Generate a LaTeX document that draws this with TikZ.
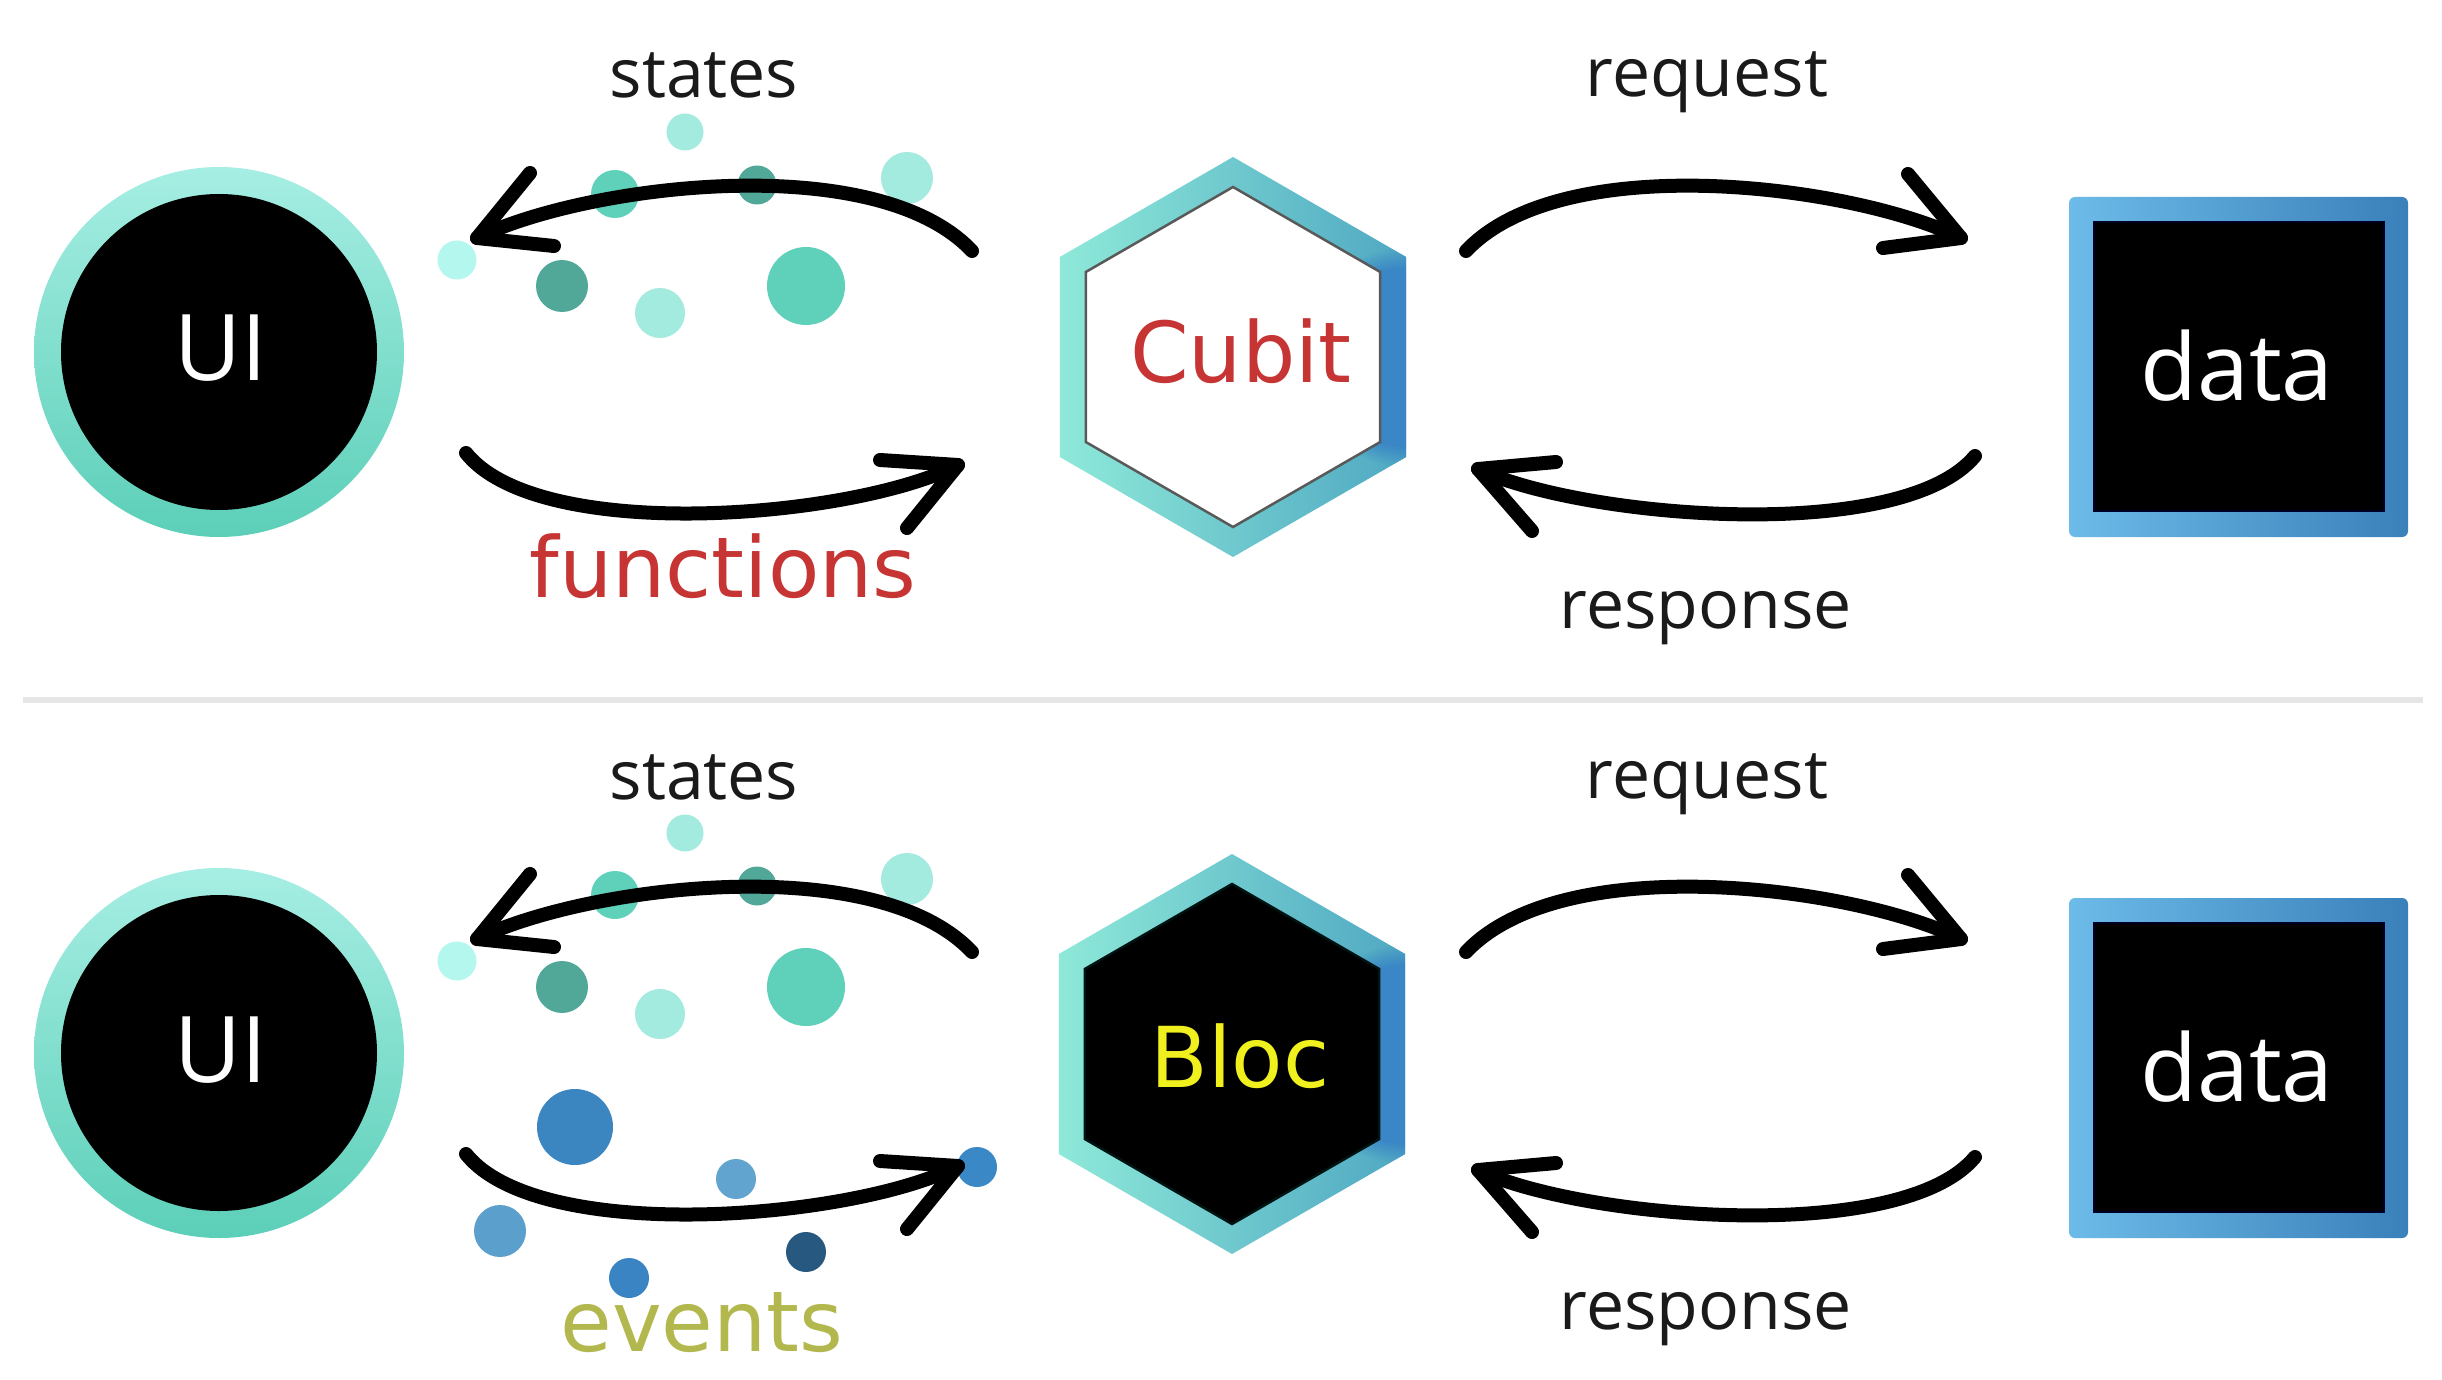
\documentclass[tikz,border=0pt]{standalone}
\usepackage{fontspec}
\newfontfamily\osans{Open Sans}
\newfontfamily\dvsans{DejaVu Sans}
\usetikzlibrary{fadings}
\definecolor{uiTop}{HTML}{A6EEE3}
\definecolor{uiBot}{HTML}{5CCFB8}
\definecolor{hexL}{HTML}{8EE9D9}
\definecolor{hexM}{HTML}{62D1BC}
\definecolor{hexR}{HTML}{4FA8C2}
\definecolor{hexB}{HTML}{3A86C6}
\definecolor{dataL}{HTML}{6CBBE8}
\definecolor{dataR}{HTML}{3A80BA}
\definecolor{dLt}{HTML}{A3EADF}
\definecolor{dMid}{HTML}{5FD0BA}
\definecolor{dDk}{HTML}{52A898}
\definecolor{dVlt}{HTML}{B4F7EF}
\definecolor{eA}{HTML}{3B85C1}
\definecolor{eB}{HTML}{62A4D0}
\definecolor{eC}{HTML}{3A88C5}
\definecolor{eD}{HTML}{5B9FCC}
\definecolor{eE}{HTML}{3A84C4}
\definecolor{eF}{HTML}{27587F}
\definecolor{cubitRed}{HTML}{C63434}
\definecolor{blocYel}{HTML}{F0F01E}
\definecolor{evOlive}{HTML}{B3B84E}
\definecolor{sepGray}{HTML}{E6E6E6}
\definecolor{lblBlack}{HTML}{1A1A1A}
\tikzset{
  arrowline/.style={line width=14, line cap=round, line join=round, draw=black},
  arrowhead/.style={line width=14, line cap=round, line join=round, draw=black},
  lbl/.style={anchor=base, inner sep=0, text=lblBlack, font=\osans\fontsize{68}{80}\selectfont},
  bigtxt/.style={anchor=base, inner sep=0, font=\dvsans\fontsize{84}{96}\selectfont},
  whitetxt/.style={anchor=base, inner sep=0, text=white, font=\osans\fontsize{92}{100}\selectfont},
}
\newcommand\hexagonpath[3]{(#1,#2-#3) -- (#1+0.866*#3,#2-0.5*#3) -- (#1+0.866*#3,#2+0.5*#3) -- (#1,#2+#3) -- (#1-0.866*#3,#2+0.5*#3) -- (#1-0.866*#3,#2-0.5*#3) -- cycle}
\begin{document}
\begin{tikzpicture}[x=1pt,y=-1pt]
\useasboundingbox[fill=white] (0,0) rectangle (2442,1380);

% separator
\coordinate (sepL) at (23,700);
\coordinate (sepR) at (2423,700);
\draw[line width=6, draw=sepGray] (sepL) -- (sepR);

\foreach \r/\dy in {a/0,b/701}{
\begin{scope}[shift={(0,\dy)}]
  % UI node
  \node[circle, minimum size=370, inner sep=0, top color=uiTop, bottom color=uiBot] (uiring\r) at (219,352) {};
  \node[circle, minimum size=316, inner sep=0, fill=black] (ui\r) at (219,352) {};
  \node[whitetxt] (uitxt\r) at (221,381) {UI};
  % data node
  \node[rectangle, rounded corners=6, minimum width=339, minimum height=340, inner sep=0, left color=dataL, right color=dataR] (dataring\r) at (2238.5,367) {};
  \node[rectangle, minimum width=290, minimum height=289, inner sep=0, fill=black, draw=black!85!blue, line width=2] (data\r) at (2239,366.5) {};
  \node[whitetxt, font=\osans\fontsize{93}{100}\selectfont] (datatxt\r) at (2237,400) {data};
  % labels
  \node[lbl] (states\r) at (704,98) {states};
  \node[lbl] (request\r) at (1707,97) {request};
  \node[lbl] (response\r) at (1706,628) {response};
  % state dots
  \fill[dLt]  (685,132) circle (18.5);
  \fill[dMid] (615,194) circle (24);
  \fill[dDk]  (757,185) circle (19.5);
  \fill[dLt]  (907,178) circle (26);
  \fill[dVlt] (457,260) circle (19.5);
  \fill[dDk]  (562,286) circle (26);
  \fill[dLt]  (660,313) circle (25);
  \fill[dMid] (806,286) circle (39);
  % states arrow
  \coordinate (stS\r) at (972,251);
  \coordinate (stC1\r) at (875,148);
  \coordinate (stC2\r) at (585,185);
  \coordinate (stT\r) at (477,238);
  \coordinate (stB1\r) at (530,173);
  \coordinate (stB2\r) at (554,246);
  \draw[arrowline] (stS\r) .. controls (stC1\r) and (stC2\r) .. (stT\r);
  \draw[arrowhead] (stB1\r) -- (stT\r) -- (stB2\r);
  % functions / events arrow
  \coordinate (fnS\r) at (466,453);
  \coordinate (fnC1\r) at (540,545);
  \coordinate (fnC2\r) at (855,518);
  \coordinate (fnT\r) at (958,465);
  \coordinate (fnB1\r) at (880,460);
  \coordinate (fnB2\r) at (907,528);
  % request arrow
  \coordinate (rqS\r) at (1466,251);
  \coordinate (rqC1\r) at (1563,148);
  \coordinate (rqC2\r) at (1853,185);
  \coordinate (rqT\r) at (1961,238);
  \coordinate (rqB1\r) at (1908,174);
  \coordinate (rqB2\r) at (1883,248);
  \draw[arrowline] (rqS\r) .. controls (rqC1\r) and (rqC2\r) .. (rqT\r);
  \draw[arrowhead] (rqB1\r) -- (rqT\r) -- (rqB2\r);
  % response arrow
  \coordinate (rsS\r) at (1975,456);
  \coordinate (rsC1\r) at (1901,545);
  \coordinate (rsC2\r) at (1581,518);
  \coordinate (rsT\r) at (1478,469);
  \coordinate (rsB1\r) at (1556,462);
  \coordinate (rsB2\r) at (1532,531);
  \draw[arrowline] (rsS\r) .. controls (rsC1\r) and (rsC2\r) .. (rsT\r);
  \draw[arrowhead] (rsB1\r) -- (rsT\r) -- (rsB2\r);
\end{scope}
}

% event dots (bottom row)
\fill[eA] (575,1127) circle (38);
\fill[eB] (736,1179) circle (20);
\fill[eC] (977,1167) circle (20);
\fill[eD] (500,1231) circle (26);
\fill[eE] (629,1278) circle (20);
\fill[eF] (806,1252) circle (20);

% functions / events arrows
\foreach \r in {a,b}{
  \draw[arrowline] (fnS\r) .. controls (fnC1\r) and (fnC2\r) .. (fnT\r);
  \draw[arrowhead] (fnB1\r) -- (fnT\r) -- (fnB2\r);
}

% Cubit hexagon (top)
\shade[left color=hexL, middle color=hexM, right color=hexR] \hexagonpath{1233}{357}{200};
\begin{scope}
  \clip \hexagonpath{1233}{357}{200};
  \fill[hexB, path fading=circle with fuzzy edge 20 percent] (1407,357) circle (110);
\end{scope}
\filldraw[fill=white, draw=black!65, line width=2.5] \hexagonpath{1233}{357}{170};
\node[bigtxt, text=cubitRed] (cubit) at (1241,382) {Cubit};
\node[bigtxt, text=cubitRed] (functions) at (723,597) {functions};

% Bloc hexagon (bottom)
\shade[left color=hexL, middle color=hexM, right color=hexR] \hexagonpath{1232}{1054}{200};
\begin{scope}
  \clip \hexagonpath{1232}{1054}{200};
  \fill[hexB, path fading=circle with fuzzy edge 20 percent] (1406,1054) circle (110);
\end{scope}
\filldraw[fill=black, draw=black!85!teal, line width=2.5] \hexagonpath{1232}{1054}{170};
\node[bigtxt, text=blocYel] (bloc) at (1240,1087) {Bloc};
\node[bigtxt, text=evOlive] (events) at (702,1351) {events};
\end{tikzpicture}
\end{document}
